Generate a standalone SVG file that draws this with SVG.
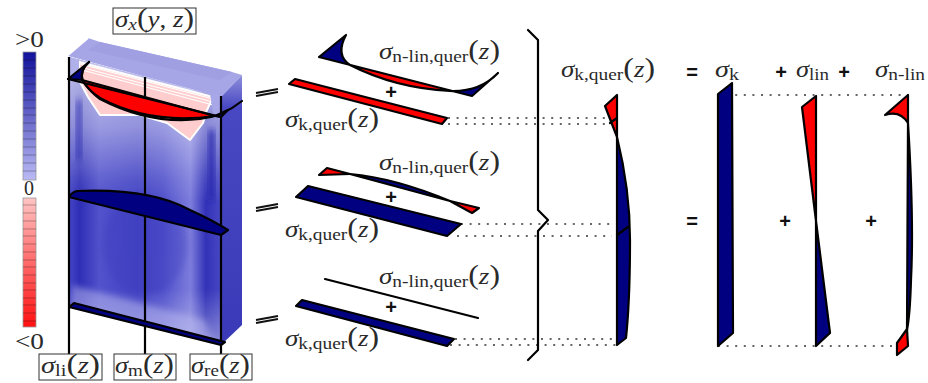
<svg xmlns="http://www.w3.org/2000/svg" width="928" height="383" viewBox="0 0 928 383">
<style>
.t{font-family:"Liberation Serif","Times New Roman",serif;font-size:23px;fill:#2a2a2a}
.i{font-style:italic}
.s{font-size:16.5px}
.p{font-size:27px;font-weight:400}
.b{font-family:"Liberation Sans",Arial,sans-serif;font-weight:700;font-size:20px;fill:#111;text-anchor:middle}
.box{fill:#fff;stroke:#333;stroke-width:1}
.sec{stroke:#000;stroke-width:2.2;stroke-linejoin:round}
.n{fill:#000080}
.r{fill:#ff0000}
.no{fill:none;stroke:#000;stroke-width:2.2;stroke-linejoin:round;stroke-linecap:round}
.dot{fill:none;stroke:#666;stroke-width:2;stroke-dasharray:2 6.6}
.eq{fill:none;stroke:#111;stroke-width:1.9}
</style>
<defs>
<linearGradient id="h" x1="0" x2="1" y1="0" y2="0">
<stop offset="0" stop-color="#4545c6"/><stop offset=".07" stop-color="#2e2eb6"/><stop offset=".2" stop-color="#5252cc"/><stop offset=".45" stop-color="#4343c4"/><stop offset=".62" stop-color="#5252cc"/><stop offset=".8" stop-color="#7c7cdc"/><stop offset=".9" stop-color="#3232b8"/><stop offset="1" stop-color="#4848c4"/>
</linearGradient>
<linearGradient id="v" x1="0" x2="0" y1="0" y2="1">
<stop offset="0" stop-color="#fff" stop-opacity=".7"/><stop offset=".24" stop-color="#fff" stop-opacity=".42"/><stop offset=".42" stop-color="#fff" stop-opacity=".1"/><stop offset=".5" stop-color="#fff" stop-opacity="0"/><stop offset=".8" stop-color="#fff" stop-opacity="0"/><stop offset="1" stop-color="#fff" stop-opacity=".4"/>
</linearGradient>
<linearGradient id="side" x1="0" x2="0" y1="0" y2="1">
<stop offset="0" stop-color="#9090dc"/><stop offset=".12" stop-color="#4848c2"/><stop offset="1" stop-color="#3a3ab8"/>
</linearGradient>
<linearGradient id="lb" x1="0" x2="0" y1="0" y2="1">
<stop offset="0" stop-color="#11119c"/><stop offset="1" stop-color="#babaf5"/>
</linearGradient>
<linearGradient id="lr" x1="0" x2="0" y1="0" y2="1">
<stop offset="0" stop-color="#ffc4c4"/><stop offset="1" stop-color="#ff1010"/>
</linearGradient>
<filter id="bl" x="-30%" y="-30%" width="160%" height="160%"><feGaussianBlur stdDeviation="3"/></filter>
<clipPath id="front"><polygon points="69,57 221,97 221,345 69,307"/></clipPath>
</defs>

<g id="legend">
<rect x="23" y="52" width="13" height="128" fill="url(#lb)" stroke="#999" stroke-width=".8"/>
<rect x="23" y="198" width="13" height="129" fill="url(#lr)" stroke="#999" stroke-width=".8"/>
<path d="M23 60H36M23 68H36M23 76H36M23 84H36M23 92H36M23 100H36M23 108H36M23 115H36M23 123H36M23 131H36M23 139H36M23 147H36M23 155H36M23 163H36M23 171H36M23 205H36M23 213H36M23 221H36M23 229H36M23 236H36M23 244H36M23 252H36M23 260H36M23 267H36M23 275H36M23 283H36M23 290H36M23 298H36M23 305H36M23 313H36M23 321H36" stroke="#000" stroke-opacity=".35" stroke-width=".8" fill="none"/>
<text class="t" x="15" y="47" textLength="29" lengthAdjust="spacingAndGlyphs">&gt;0</text>
<text class="t" x="24" y="195" style="font-size:20px">0</text>
<text class="t" x="15" y="349" textLength="29" lengthAdjust="spacingAndGlyphs">&lt;0</text>
</g>

<g id="block">
<polygon points="68,56 88,38 100,42 232,72 242,75 221,97" fill="#a6a6e6"/>
<path d="M68 55L88 38" stroke="#fff" stroke-width="2" fill="none"/>
<path d="M100 42L232 72L220 80L88 50Z" fill="#9f9fe2"/>
<polygon points="221,97 242,75 242,325 221,345" fill="url(#side)"/>
<polygon points="69,57 221,97 221,345 69,307" fill="url(#h)"/>
<g clip-path="url(#front)">
<rect x="69" y="57" width="152" height="290" fill="url(#v)"/>
<ellipse cx="145" cy="245" rx="42" ry="50" fill="#3a3abc" opacity=".35" filter="url(#bl)"/>
<polygon points="72,285 205,320 215,345 72,310" fill="#b8b8f0" opacity=".5" filter="url(#bl)"/>
<rect x="209" y="130" width="5" height="70" fill="#2424ac" filter="url(#bl)"/>
<rect x="77" y="100" width="4" height="60" fill="#2a2ab0" filter="url(#bl)"/>
<path d="M79 62L213 97L207 110L203 123L190 140L167 123L140 115L100 115L88 97L79 80Z" fill="#ffcdcd" stroke="#fff" stroke-width="2" stroke-linejoin="round"/>
<path d="M80 64L213 99M80 67L213 102M82 70L213 105" stroke="#fff" stroke-width="1.2" fill="none"/>
</g>
<polygon points="69,57 79,60 79,80 69,80" fill="#b0b0ea"/>
<polygon points="210,94 221,97 221,122 213,112" fill="#a8a8e8"/>
</g>

<g id="connectors">
<path d="M69 57V354M145 77V354M221 96V354" fill="none" stroke="#000" stroke-width="2.2"/>
<path class="dot" d="M448 118H613M448 124H613M461 224H612M457 236H612M455 339H617M450 345H617M718 95H908M718 346H897"/>
<path class="no" d="M528 30L538 40V210L548 220L538 231V350L528 360" stroke-linecap="butt"/>
<path class="eq" d="M256 93L278 89M256 96L278 92M256 208L278 204M256 211L278 207M256 320L278 316M256 323L278 319"/>
</g>

<g id="section-top-block">
<path class="sec n" d="M68 79L89 62Q80 70 82 80Z"/>
<path class="sec r" d="M82 80L215 116Q150 125 100 98Q88 90 82 80Z"/>
<path class="sec n" d="M215 116L228 110L221 117Z"/>
<path class="no" d="M68 79L221 117M89 62Q79 71 83 81Q90 92 100 99Q150 125 200 119Q222 117 242 101" stroke-width="2.6"/>
</g>
<g id="section-mid-block">
<path class="sec n" d="M69 197Q72 192 77 191Q150 188 190 210Q212 220 228 230L221 235Z"/>
</g>
<g id="section-low-block">
<polygon class="sec n" points="69,307 74,303 225,342 221,345"/>
</g>

<g id="nlin-1">
<path class="n" d="M319 57L346 35Q335 55 350 65Z"/>
<path class="r" d="M350 65L450 91Q395 88 350 65Z"/>
<path class="n" d="M450 91Q480 92 498 73L472 96Z"/>
<path class="no" d="M319 57L346 35Q335 55 350 65Q395 88 450 91Q480 92 498 73L472 96L319 57"/>
</g>
<polygon id="bar-1" class="sec r" points="289,84 295,79 447,118 442,124"/>
<g id="nlin-2">
<path class="sec r" d="M319 175L327 168L350 174Z" stroke-width="1.6"/>
<path class="sec n" d="M350 174Q395 178 450 201Z" stroke-width="1.6"/>
<path class="sec r" d="M450 201L479 208L472 213Z" stroke-width="1.6"/>
</g>
<polygon id="bar-2" class="sec n" points="296,197 308,186 461,224 447,236"/>
<path id="nlin-3" class="no" d="M325 279L478 318"/>
<polygon id="bar-3" class="sec n" points="296,306 302,300 454,339 447,346"/>

<g id="profile-sum">
<polygon class="sec r" points="605,106 617,95 617,137"/>
<path class="sec n" d="M617 137Q630 190 630 240Q630 300 626 338L617 345Z"/>
<path class="no" d="M610 123L617 118M617 235L628 227" stroke-width="1.5"/>
</g>
<polygon id="profile-k" class="sec n" points="718,94 732,83 733,333 718,346"/>
<g id="profile-lin">
<polygon class="sec r" points="802,107 816,96 816,221"/>
<polygon class="sec n" points="816,221 830,333 816,346"/>
</g>
<g id="profile-nlin">
<path class="sec r" d="M885 115L908 95V123Q900 110 885 115Z"/>
<path class="sec n" d="M908 123Q914 220 911 280Q910 315 907 330Z"/>
<path class="sec r" d="M907 329L908 346L897 355V343Z"/>
</g>

<g id="ops">
<text class="b" x="391" y="99">+</text>
<text class="b" x="391" y="204">+</text>
<text class="b" x="391" y="314">+</text>
<text class="b" x="692" y="79">=</text>
<text class="b" x="781" y="79">+</text>
<text class="b" x="844" y="79">+</text>
<text class="b" x="692" y="228">=</text>
<text class="b" x="785" y="228">+</text>
<text class="b" x="871" y="228">+</text>
</g>

<g id="labels">
<text class="t" x="379" y="59" textLength="121" lengthAdjust="spacingAndGlyphs"><tspan class="i">σ</tspan><tspan class="s" dy="3">n-lin,quer</tspan><tspan class="p" dy="-3">(</tspan><tspan class="i">z</tspan><tspan class="p">)</tspan></text>
<text class="t" x="379" y="170" textLength="121" lengthAdjust="spacingAndGlyphs"><tspan class="i">σ</tspan><tspan class="s" dy="3">n-lin,quer</tspan><tspan class="p" dy="-3">(</tspan><tspan class="i">z</tspan><tspan class="p">)</tspan></text>
<text class="t" x="379" y="284" textLength="121" lengthAdjust="spacingAndGlyphs"><tspan class="i">σ</tspan><tspan class="s" dy="3">n-lin,quer</tspan><tspan class="p" dy="-3">(</tspan><tspan class="i">z</tspan><tspan class="p">)</tspan></text>
<text class="t" x="285" y="127" textLength="94" lengthAdjust="spacingAndGlyphs"><tspan class="i">σ</tspan><tspan class="s" dy="3">k,quer</tspan><tspan class="p" dy="-3">(</tspan><tspan class="i">z</tspan><tspan class="p">)</tspan></text>
<text class="t" x="285" y="237" textLength="94" lengthAdjust="spacingAndGlyphs"><tspan class="i">σ</tspan><tspan class="s" dy="3">k,quer</tspan><tspan class="p" dy="-3">(</tspan><tspan class="i">z</tspan><tspan class="p">)</tspan></text>
<text class="t" x="285" y="346" textLength="94" lengthAdjust="spacingAndGlyphs"><tspan class="i">σ</tspan><tspan class="s" dy="3">k,quer</tspan><tspan class="p" dy="-3">(</tspan><tspan class="i">z</tspan><tspan class="p">)</tspan></text>
<text class="t" x="561" y="77" textLength="94" lengthAdjust="spacingAndGlyphs"><tspan class="i">σ</tspan><tspan class="s" dy="3">k,quer</tspan><tspan class="p" dy="-3">(</tspan><tspan class="i">z</tspan><tspan class="p">)</tspan></text>
<text class="t" x="715" y="77" textLength="24" lengthAdjust="spacingAndGlyphs"><tspan class="i">σ</tspan><tspan class="s" dy="3">k</tspan></text>
<text class="t" x="796" y="77" textLength="33" lengthAdjust="spacingAndGlyphs"><tspan class="i">σ</tspan><tspan class="s" dy="3">lin</tspan></text>
<text class="t" x="875" y="77" textLength="50" lengthAdjust="spacingAndGlyphs"><tspan class="i">σ</tspan><tspan class="s" dy="3">n-lin</tspan></text>
</g>

<g id="box-x">
<rect class="box" x="113" y="8" width="83" height="26"/>
<text class="t" x="115" y="27" textLength="79" lengthAdjust="spacingAndGlyphs"><tspan class="i">σ</tspan><tspan class="i s" dy="3">x</tspan><tspan class="p" dy="-3">(</tspan><tspan class="i">y</tspan><tspan>, </tspan><tspan class="i">z</tspan><tspan class="p">)</tspan></text>
</g>
<g id="box-li">
<rect class="box" x="39" y="354" width="63" height="26"/>
<text class="t" x="41" y="373" textLength="59" lengthAdjust="spacingAndGlyphs"><tspan class="i">σ</tspan><tspan class="s" dy="3">li</tspan><tspan class="p" dy="-3">(</tspan><tspan class="i">z</tspan><tspan class="p">)</tspan></text>
</g>
<g id="box-m">
<rect class="box" x="114" y="354" width="62" height="26"/>
<text class="t" x="115" y="373" textLength="59" lengthAdjust="spacingAndGlyphs"><tspan class="i">σ</tspan><tspan class="s" dy="3">m</tspan><tspan class="p" dy="-3">(</tspan><tspan class="i">z</tspan><tspan class="p">)</tspan></text>
</g>
<g id="box-re">
<rect class="box" x="190" y="354" width="62" height="26"/>
<text class="t" x="191" y="373" textLength="59" lengthAdjust="spacingAndGlyphs"><tspan class="i">σ</tspan><tspan class="s" dy="3">re</tspan><tspan class="p" dy="-3">(</tspan><tspan class="i">z</tspan><tspan class="p">)</tspan></text>
</g>
</svg>
